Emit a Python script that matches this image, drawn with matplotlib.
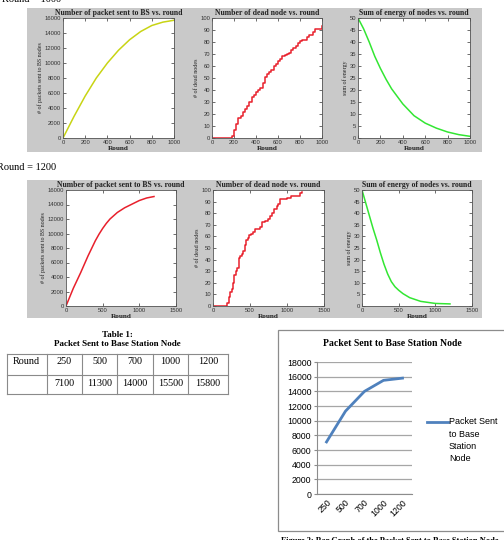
import numpy as np
import matplotlib
matplotlib.use("Agg")
import matplotlib.pyplot as plt
from matplotlib.patches import Rectangle

W, H = 504, 540

# ---- data ----
# round = 1000
r1_packets_x = [0, 100, 200, 300, 400, 500, 600, 700, 800, 900, 1000]
r1_packets_y = [0, 2900, 5600, 8000, 10000, 11700, 13100, 14200, 15000, 15450, 15700]

r1_dead_x = [0, 160, 180, 200, 220, 240, 260, 280, 300, 320, 340, 360, 380, 400, 420,
             440, 460, 480, 500, 520, 540, 560, 580, 600, 620, 640, 660, 680, 700, 720,
             740, 760, 780, 800, 820, 840, 860, 880, 900, 920, 940, 960, 980, 1000]
r1_dead_y = [0, 0, 2, 7, 12, 17, 18, 22, 24, 27, 30, 34, 36, 38, 40,
             42, 46, 51, 53, 55, 57, 60, 62, 64, 66, 68, 69, 70, 71, 73,
             75, 77, 79, 81, 82, 82, 84, 86, 86, 88, 91, 91, 91, 93]

r1_energy_x = [0, 50, 100, 150, 200, 250, 300, 400, 500, 600, 700, 800, 900, 1000]
r1_energy_y = [50, 45.5, 40, 34, 29, 24.5, 20.5, 14.2, 9.3, 6.2, 4.1, 2.5, 1.4, 0.7]

# round = 1200
r2_packets_x = [0, 100, 200, 300, 400, 450, 500, 550, 600, 700, 800, 900, 1000, 1100, 1200]
r2_packets_y = [0, 2450, 4600, 6900, 9000, 9900, 10700, 11400, 12000, 12900, 13550, 14050, 14550, 14900, 15100]

r2_dead_x = [0, 170, 190, 210, 230, 250, 270, 290, 310, 330, 350, 370, 390, 410, 430,
             450, 470, 490, 510, 540, 570, 600, 630, 660, 700, 740, 770, 800, 830, 860,
             880, 900, 950, 1000, 1050, 1100, 1150, 1180, 1200]
r2_dead_y = [0, 0, 3, 8, 12, 15, 20, 27, 30, 33, 41, 43, 45, 47, 53,
             57, 59, 61, 62, 64, 66, 66, 68, 72, 73, 75, 78, 80, 84, 86,
             88, 92, 92, 93, 95, 95, 95, 97, 98]

r2_energy_x = [0, 50, 100, 150, 200, 250, 300, 350, 400, 450, 500, 560, 650, 800, 1000, 1200]
r2_energy_y = [50, 44.5, 39, 33.5, 28.5, 23, 18, 13.8, 10.5, 8.3, 6.8, 5.3, 3.6, 2, 1.1, 0.9]

# table / excel chart
table_rounds = ["250", "500", "700", "1000", "1200"]
table_packets = [7100, 11300, 14000, 15500, 15800]

# ---- figure ----
fig = plt.figure(figsize=(W / 100, H / 100), dpi=100)
fig.patch.set_facecolor("white")


def box(x0, y0, x1, y1):
    return [x0 / W, 1 - y1 / H, (x1 - x0) / W, (y1 - y0) / H]


def ftext(x, y, s, **kw):
    fig.text(x / W, 1 - y / H, s, **kw)


def fline(xs, ys, **kw):
    fig.lines.append(plt.Line2D([v / W for v in xs], [1 - v / H for v in ys],
                                transform=fig.transFigure, **kw))


gray = "#c9c9c9"
for (y0, y1) in [(8, 152), (180, 318)]:
    fig.patches.append(Rectangle((27 / W, 1 - y1 / H), (482 - 27) / W, (y1 - y0) / H,
                                 transform=fig.transFigure, facecolor=gray,
                                 edgecolor="none", zorder=-2))

serif = "Liberation Serif"
sans = "Liberation Sans"


def matlab_ax(rect, x, y, color, xt, yt, title, ylabel, step=False):
    ax = fig.add_axes(box(*rect))
    ax.set_facecolor("white")
    if step:
        ax.step(x, y, where="post", color=color, lw=1.1)
    else:
        ax.plot(x, y, color=color, lw=1.1)
    ax.set_xlim(xt[0], xt[-1])
    ax.set_ylim(yt[0], yt[-1])
    ax.set_xticks(xt)
    ax.set_yticks(yt)
    ax.tick_params(direction="in", length=2, width=0.5, labelsize=4.2,
                   top=True, right=True, pad=1.5, colors="#333333")
    for lab in ax.get_xticklabels() + ax.get_yticklabels():
        lab.set_fontfamily(sans)
    for s in ax.spines.values():
        s.set_linewidth(0.6)
        s.set_color("#555555")
    ax.set_title(title, fontsize=5.6, fontweight="bold", family=serif, pad=2.5,
                 color="#222222")
    ax.set_xlabel("Round", fontsize=5.2, fontweight="bold", family=serif, labelpad=0.5,
                  color="#222222")
    ax.set_ylabel(ylabel, fontsize=4.3, family=serif, labelpad=1, color="#222222")
    return ax


xt1 = [0, 200, 400, 600, 800, 1000]
xt2 = [0, 500, 1000, 1500]
matlab_ax((63, 18, 174, 138), r1_packets_x, r1_packets_y, "#c8d414", xt1,
          list(range(0, 16001, 2000)), "Number of packet sent to BS vs. round",
          "# of packets sent to BS nodes")
matlab_ax((212, 18, 322, 138), r1_dead_x, r1_dead_y, "#e8202c", xt1,
          list(range(0, 101, 10)), "Number of dead node vs. round",
          "# of dead nodes", step=True)
matlab_ax((358, 18, 470, 138), r1_energy_x, r1_energy_y, "#33e633", xt1,
          list(range(0, 51, 5)), "Sum of energy of nodes vs. round",
          "sum of energy")

matlab_ax((66, 190, 176, 306), r2_packets_x, r2_packets_y, "#e8202c", xt2,
          list(range(0, 16001, 2000)), "Number of packet sent to BS vs. round",
          "# of packets sent to BS nodes")
matlab_ax((213, 190, 324, 306), r2_dead_x, r2_dead_y, "#e8202c", xt2,
          list(range(0, 101, 10)), "Number of dead node vs. round",
          "# of dead nodes", step=True)
matlab_ax((362, 190, 472, 306), r2_energy_x, r2_energy_y, "#33e633", xt2,
          list(range(0, 51, 5)), "Sum of energy of nodes vs. round",
          "sum of energy")

# page text
ftext(2, 1.5, "Round = 1000", fontsize=7.5, family=serif, va="baseline")
ftext(-3, 168, "Round = 1200", fontsize=7.5, family=serif, va="center")
ftext(117, 335, "Table 1:", fontsize=6.5, family=serif, fontweight="bold",
      ha="center", va="center")
ftext(117, 344, "Packet Sent to Base Station Node", fontsize=6.5, family=serif,
      fontweight="bold", ha="center", va="center")

# table, drawn by hand
col_edges = [7, 47, 82, 117, 153, 188, 228]
row_edges = [354, 375, 394]
for xe in col_edges:
    fline([xe, xe], [row_edges[0], row_edges[-1]], color="#8a8a8a", lw=0.8)
for ye in row_edges:
    fline([col_edges[0], col_edges[-1]], [ye, ye], color="#8a8a8a", lw=0.8)
ftext(13, 362, "Round", fontsize=7.3, family=serif, va="center")
for i, (rd, pk) in enumerate(zip(table_rounds, table_packets)):
    cx = (col_edges[i + 1] + col_edges[i + 2]) / 2
    ftext(cx, 362, rd, fontsize=7.3, family=serif, ha="center", va="center")
    ftext(cx, 383, str(pk), fontsize=7.3, family=serif, ha="center", va="center")

# excel chart border
fig.patches.append(Rectangle((278 / W, 1 - 531 / H), (506 - 278) / W, (531 - 330) / H,
                             transform=fig.transFigure, facecolor="white",
                             edgecolor="#8c8c8c", lw=0.9, zorder=-2))
ftext(392, 344, "Packet Sent to Base Station Node", fontsize=7, family=serif,
      fontweight="bold", ha="center", va="center")

ex = fig.add_axes(box(317, 362, 412, 494))
ex.patch.set_alpha(0)
xs = np.arange(len(table_rounds))
ex.plot(xs, table_packets, color="#4f81bd", lw=2)
ex.set_xlim(-0.5, len(table_rounds) - 0.5)
ex.set_ylim(0, 18000)
ex.set_yticks(range(0, 18001, 2000))
ex.set_xticks(xs)
ex.set_xticklabels(table_rounds, rotation=45, ha="right", rotation_mode="anchor")
ex.yaxis.grid(True, color="#a6a6a6", lw=0.9)
ex.set_axisbelow(True)
for k in ["top", "right"]:
    ex.spines[k].set_visible(False)
for k in ["left", "bottom"]:
    ex.spines[k].set_color("#8c8c8c")
    ex.spines[k].set_linewidth(0.8)
ex.tick_params(axis="y", length=2, width=0.8, color="#8c8c8c", labelsize=6.3, pad=2)
ex.tick_params(axis="x", length=0, labelsize=6.3, pad=3)
for lab in ex.get_xticklabels() + ex.get_yticklabels():
    lab.set_fontfamily(sans)

fline([427, 448], [422, 422], color="#4f81bd", lw=2)
for i, s in enumerate(["Packet Sent", "to Base", "Station", "Node"]):
    ftext(449, 422 + i * 12.3, s, fontsize=6.5, family=sans, va="center")

ftext(390, 537, "Figure 2: Bar Graph of the Packet Sent to Base Station Node",
      fontsize=6, family=serif, fontweight="bold", ha="center", va="top")

fig.savefig("out.png", dpi=100)
